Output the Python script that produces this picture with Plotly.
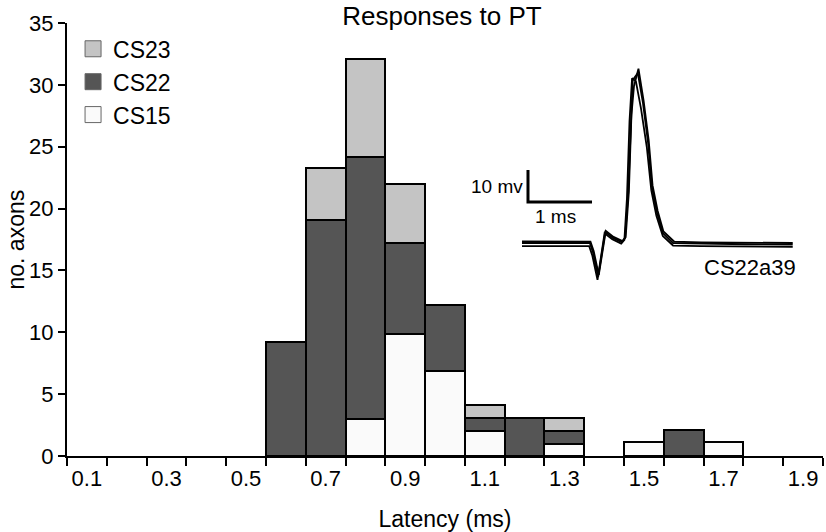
import plotly.graph_objects as go

# ---- histogram data (bin centres in ms, segment heights = no. axons) ----
bins = [0.6, 0.7, 0.8, 0.9, 1.0, 1.1, 1.2, 1.3, 1.5, 1.6, 1.7]
cs15 = [None, None, 3.0, 9.9, 6.9, 2.0, None, 1.0, 1.1, None, 1.1]
cs22 = [9.25, 19.1, 21.2, 7.3, 5.3, 1.1, 3.1, 1.0, None, 2.1, None]
cs23 = [None, 4.2, 7.9, 4.8, None, 1.0, None, 1.1, None, None, None]

series_names = ["CS15", "CS22", "CS23"]
series_vals = [cs15, cs22, cs23]
series_cols = ["#fafafa", "#555555", "#c4c4c4"]

x_edge_ticks = [round(0.05 + 0.1 * i, 2) for i in range(20)]
x_label_vals = [0.1, 0.3, 0.5, 0.7, 0.9, 1.1, 1.3, 1.5, 1.7, 1.9]
x_label_text = ["0.1", "0.3", "0.5", "0.7", "0.9", "1.1", "1.3", "1.5", "1.7", "1.9"]
y_ticks = [0, 5, 10, 15, 20, 25, 30, 35]

# ---- inset: example spike sweeps (time in ms, voltage in mV) ----
t1 = [0.0, 0.6, 1.06, 1.11, 1.19, 1.30, 1.42, 1.56, 1.61, 1.66, 1.70, 1.73, 1.81, 1.89, 1.97, 2.03, 2.11, 2.20, 2.36, 2.80, 3.50, 4.23]
v1 = [0.0, 0.0, 0.0, -3.0, -10.6, 3.4, 1.6, 0.3, 1.6, 15.6, 39.4, 50.9, 53.1, 43.8, 31.3, 17.5, 9.4, 3.1, 0.0, -0.2, -0.4, -0.5]
t2 = [0.0, 0.7, 1.05, 1.10, 1.18, 1.29, 1.41, 1.55, 1.60, 1.64, 1.68, 1.72, 1.78, 1.86, 1.95, 2.02, 2.10, 2.20, 2.36, 2.80, 3.50, 4.23]
v2 = [-1.0, -1.0, -1.0, -4.0, -11.5, 3.0, 1.2, -0.2, 1.0, 14.0, 38.0, 51.5, 50.5, 42.0, 30.0, 16.5, 8.5, 2.2, -0.8, -1.0, -1.2, -1.2]
t3 = [0.0, 0.6, 1.07, 1.12, 1.20, 1.31, 1.43, 1.57, 1.62, 1.67, 1.71, 1.75, 1.82, 1.90, 1.98, 2.04, 2.12, 2.21, 2.38, 2.80, 3.50, 4.23]
v3 = [0.5, 0.5, 0.4, -2.5, -10.0, 3.8, 1.9, 0.6, 1.8, 16.0, 40.0, 49.0, 54.5, 44.5, 32.0, 18.0, 10.0, 3.6, 0.4, 0.2, 0.0, 0.0]
sweeps = [(t1, v1), (t2, v2), (t3, v3)]

scale_t = [0.094, 0.094, 1.094]
scale_v = [22.8, 12.8, 12.8]

FONT = "Liberation Sans, Arial, Helvetica, sans-serif"

fig = go.Figure()

for name, vals, col in zip(series_names, series_vals, series_cols):
    fig.add_trace(go.Bar(
        x=bins, y=vals, width=0.1, name=name, showlegend=False,
        marker=dict(color=col, line=dict(color="black", width=2)),
    ))

# legend entries (larger square swatches)
for name, col in zip(series_names, series_cols):
    fig.add_trace(go.Scatter(
        x=[None], y=[None], mode="markers", name=name,
        marker=dict(symbol="square", size=16, color=col,
                    line=dict(color="#666666", width=1)),
    ))

for tt, vv in sweeps:
    fig.add_trace(go.Scatter(
        x=tt, y=vv, mode="lines", xaxis="x2", yaxis="y2", showlegend=False,
        line=dict(color="black", width=1.8),
    ))
fig.add_trace(go.Scatter(
    x=scale_t, y=scale_v, mode="lines", xaxis="x2", yaxis="y2", showlegend=False,
    line=dict(color="black", width=3),
))

fig.update_layout(
    width=826, height=532,
    margin=dict(l=67, r=3, t=23, b=76, autoexpand=False),
    paper_bgcolor="white", plot_bgcolor="white",
    barmode="stack", bargap=0,
    font=dict(family=FONT, color="black", size=22),
    title=dict(text="Responses to PT", x=0.535, xanchor="center",
               y=0.987, yanchor="top", font=dict(size=26), pad=dict(t=0, b=0)),
    showlegend=True,
    legend=dict(x=0.008, y=0.99, xanchor="left", yanchor="top",
                traceorder="reversed", font=dict(size=23),
                bgcolor="rgba(0,0,0,0)", itemsizing="trace",
                tracegroupgap=0),
    xaxis=dict(
        range=[0.05, 1.95], showgrid=False, zeroline=False, automargin=False,
        showline=True, linecolor="black", linewidth=2,
        tickmode="array", tickvals=x_label_vals, ticktext=x_label_text,
        ticks="", tickfont=dict(size=22), ticklabelstandoff=2,
        minor=dict(tickmode="array", tickvals=x_edge_ticks, ticks="outside",
                   ticklen=8, tickwidth=2, tickcolor="black", showgrid=False),
        title=dict(text="Latency (ms)", font=dict(size=23), standoff=22),
    ),
    yaxis=dict(
        range=[0, 35], showgrid=False, zeroline=False, automargin=False,
        showline=True, linecolor="black", linewidth=2,
        tickmode="array", tickvals=y_ticks,
        ticks="outside", ticklen=7, tickwidth=2, tickcolor="black",
        tickfont=dict(size=22),
    ),
    xaxis2=dict(domain=[0.5926, 0.9696], range=[-0.109, 4.344], visible=False,
                anchor="y2", showgrid=False, zeroline=False),
    yaxis2=dict(domain=[0.395, 0.9145], range=[-13.125, 57.19], visible=False,
                anchor="x2", showgrid=False, zeroline=False),
    annotations=[
        dict(text="no. axons", x=-67 / 756, y=0.5, xref="paper", yref="paper",
             xanchor="left", yanchor="middle", textangle=-90, showarrow=False,
             font=dict(size=23)),
        dict(text="10 mv", x=0.04, y=17.5, xref="x2", yref="y2",
             xanchor="right", yanchor="middle", showarrow=False, font=dict(size=19)),
        dict(text="1 ms", x=0.52, y=8.4, xref="x2", yref="y2",
             xanchor="center", yanchor="middle", showarrow=False, font=dict(size=19)),
        dict(text="CS22a39", x=4.31, y=-7.8, xref="x2", yref="y2",
             xanchor="right", yanchor="middle", showarrow=False, font=dict(size=22)),
    ],
)

# remove the browser's default 8px page margin so the figure fills the window
fig.write_html("out.html", config={"displayModeBar": False},
               post_script="document.body.style.margin='0';")
